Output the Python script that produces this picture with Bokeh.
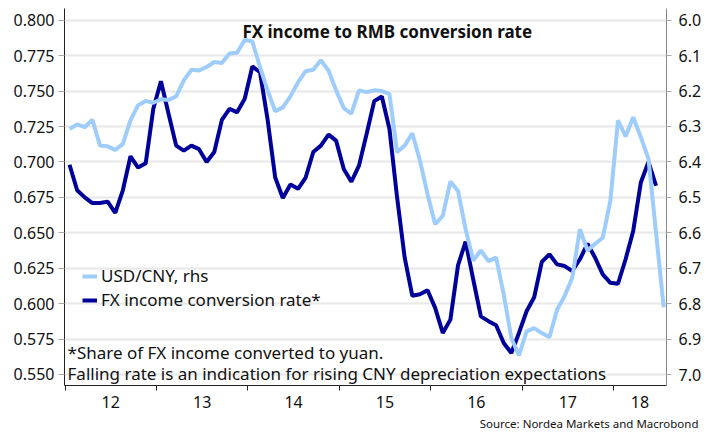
from bokeh.plotting import figure
from bokeh.models import (Range1d, LinearAxis, FixedTicker, Label, Legend, LegendItem, Title,
                          ColumnDataSource, NumeralTickFormatter, CustomJSTickFormatter)
from bokeh.embed import file_html
from bokeh.resources import INLINE

# ---- data (monthly, Jan 2012 onwards) ----
year_labels = ["12", "13", "14", "15", "16", "17", "18"]

fx_conversion_rate = [
    0.698, 0.680, 0.675, 0.671, 0.671, 0.672, 0.664, 0.680, 0.704, 0.696, 0.699, 0.7375,
    0.757, 0.734, 0.7115, 0.708, 0.7115, 0.709, 0.700, 0.707, 0.7297, 0.7375, 0.735, 0.7446,
    0.7674, 0.7634, 0.730, 0.689, 0.6745, 0.684, 0.681, 0.689, 0.707, 0.7115, 0.7193, 0.715,
    0.695, 0.686, 0.6974, 0.7197, 0.7429, 0.7462, 0.7233, 0.675, 0.6324, 0.6055, 0.6066, 0.6094,
    0.597, 0.5793, 0.5887, 0.627, 0.6437, 0.617, 0.591, 0.5876, 0.5847, 0.5722, 0.5651, 0.5793,
    0.5946, 0.6045, 0.6295, 0.6348, 0.6277, 0.6265, 0.623, 0.6313, 0.6423, 0.6324, 0.6206, 0.6147,
    0.614, 0.6313, 0.6513, 0.6855, 0.700, 0.6832,
]

usd_cny = [
    6.307, 6.294, 6.302, 6.281, 6.354, 6.356, 6.366, 6.349, 6.283, 6.240, 6.228, 6.233,
    6.223, 6.225, 6.215, 6.170, 6.140, 6.142, 6.132, 6.118, 6.121, 6.094, 6.092, 6.055,
    6.060, 6.132, 6.198, 6.257, 6.246, 6.215, 6.175, 6.144, 6.140, 6.113, 6.142, 6.198,
    6.248, 6.264, 6.198, 6.203, 6.198, 6.200, 6.208, 6.373, 6.354, 6.319, 6.396, 6.491,
    6.576, 6.552, 6.455, 6.482, 6.590, 6.678, 6.650, 6.680, 6.670, 6.774, 6.897, 6.946,
    6.878, 6.869, 6.883, 6.895, 6.817, 6.778, 6.727, 6.590, 6.650, 6.631, 6.614, 6.510,
    6.283, 6.328, 6.274, 6.330, 6.391, 6.600, 6.810,
]

left_ticks = [0.550, 0.575, 0.600, 0.625, 0.650, 0.675, 0.700, 0.725, 0.750, 0.775, 0.800]
right_ticks = [6.0, 6.1, 6.2, 6.3, 6.4, 6.5, 6.6, 6.7, 6.8, 6.9, 7.0]

X_START, X_END = -0.07, 78.96
Y_START, Y_END = 0.5422, 0.8083

# months since Jan 2012 (points sit mid-month)
x_fx = [i + 0.59 for i in range(len(fx_conversion_rate))]
x_usd = [i + 0.59 for i in range(len(usd_cny))]
year_starts = [12 * k for k in range(len(year_labels))]
# year labels centred in the visible part of each year
label_pos = [(max(s, X_START) + min(s + 12, X_END)) / 2 for s in year_starts]

FONT = "Noto Sans"
DARK = "#00009a"
LIGHT = "#9ecdfb"
TXT = "#111111"

p = figure(frame_width=602, frame_height=377, x_range=Range1d(X_START, X_END),
           y_range=Range1d(Y_START, Y_END), output_backend="svg",
           toolbar_location=None, min_border_left=64, min_border_right=36,
           min_border_top=8, min_border_bottom=55)
p.extra_y_ranges = {"rhs": Range1d(7.031, 5.967)}
p.outline_line_color = None
p.background_fill_color = "white"

src_fx = ColumnDataSource(dict(x=x_fx, y=fx_conversion_rate))
src_usd = ColumnDataSource(dict(x=x_usd, y=usd_cny))

r_fx = p.line("x", "y", source=src_fx, line_color=DARK, line_width=4)
r_usd = p.line("x", "y", source=src_usd, line_color=LIGHT, line_width=4, y_range_name="rhs")

# grid
p.xgrid.visible = False
p.ygrid.ticker = FixedTicker(ticks=left_ticks)
p.ygrid.grid_line_color = "#e8e8e8"
p.ygrid.grid_line_width = 2

# left axis
ya = p.yaxis[0]
ya.ticker = FixedTicker(ticks=left_ticks)
ya.formatter = NumeralTickFormatter(format="0.000")
ya.axis_line_color = "#222222"
ya.major_tick_line_color = "#aaaaaa"
ya.major_tick_out = 6
ya.major_tick_in = 0
ya.minor_tick_line_color = None
ya.major_label_text_font = FONT
ya.major_label_text_font_size = "16px"
ya.major_label_text_color = TXT
ya.major_label_standoff = 4

# bottom axis
xa = p.xaxis[0]
xa.ticker = FixedTicker(ticks=label_pos, minor_ticks=year_starts)
xa.formatter = CustomJSTickFormatter(args=dict(pos=label_pos, labs=year_labels), code="""
    for (let i = 0; i < pos.length; i++) { if (Math.abs(pos[i] - tick) < 1e-6) return labs[i]; }
    return "";
""")
xa.major_tick_line_color = None
xa.major_tick_out = 0
xa.major_tick_in = 0
xa.minor_tick_line_color = "#222222"
xa.minor_tick_out = 5
xa.minor_tick_in = 0
xa.axis_line_color = "#222222"
xa.major_label_text_font = FONT
xa.major_label_text_font_size = "16px"
xa.major_label_text_color = TXT
xa.major_label_standoff = 5

# right axis
ra = LinearAxis(y_range_name="rhs", ticker=FixedTicker(ticks=right_ticks),
                formatter=NumeralTickFormatter(format="0.0"))
ra.axis_line_color = "#888888"
ra.major_tick_line_color = "#aaaaaa"
ra.major_tick_out = 5
ra.major_tick_in = 0
ra.minor_tick_line_color = None
ra.major_label_text_font = FONT
ra.major_label_text_font_size = "16px"
ra.major_label_text_color = TXT
ra.major_label_standoff = 7
p.add_layout(ra, "right")

# legend
legend = Legend(items=[LegendItem(label="USD/CNY, rhs", renderers=[r_usd]),
                       LegendItem(label="FX income conversion rate*", renderers=[r_fx])],
                location=(18, 74), padding=0, margin=0, spacing=1,
                glyph_width=15, glyph_height=20, label_height=20, label_standoff=4,
                border_line_alpha=0, background_fill_alpha=0,
                label_text_font=FONT, label_text_font_size="17px", label_text_color=TXT)
p.add_layout(legend)

# in-plot texts
p.add_layout(Label(x=42.3, y=0.7922, text="FX income to RMB conversion rate",
                   text_align="center", text_baseline="middle", text_font=FONT,
                   text_font_style="bold", text_font_size="17px", text_color=TXT))
p.add_layout(Label(x=0.33, y=0.5655, text="*Share of FX income converted to yuan.",
                   text_align="left", text_baseline="middle", text_font=FONT,
                   text_font_size="17px", text_color=TXT))
p.add_layout(Label(x=0.33, y=0.5507,
                   text="Falling rate is an indication for rising CNY depreciation expectations",
                   text_align="left", text_baseline="middle", text_font=FONT,
                   text_font_size="17px", text_color=TXT))

# source note below the plot area (right-aligned, reaching past the right axis)
p.add_layout(Title(text="Source: Nordea Markets and Macrobond", align="right",
                   offset=-32, standoff=6, text_font=FONT, text_font_size="11.5px",
                   text_font_style="normal", text_color=TXT), "below")

open("out.html", "w").write(file_html(p, INLINE))
